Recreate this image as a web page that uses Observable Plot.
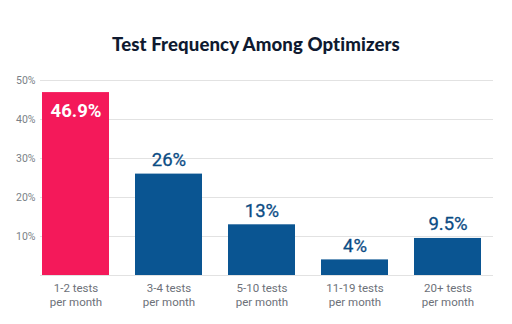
<!DOCTYPE html>
<html><head><meta charset="utf-8">
<script src="https://cdn.jsdelivr.net/npm/d3@7"></script>
<script src="https://cdn.jsdelivr.net/npm/@observablehq/plot@0.6"></script>
<style>
body{margin:0;background:#fff;width:512px;height:324px;overflow:hidden;font-family:Roboto,"Noto Sans",sans-serif}
#title{height:64px;box-sizing:border-box;padding-top:31px;text-align:center;font-family:Lato,sans-serif;font-weight:900;font-size:18.6px;color:#0f1a30;line-height:26px;letter-spacing:0.1px}
#chart svg{display:block}
</style></head><body>
<div id="title">Test Frequency Among Optimizers</div>
<div id="chart"></div>
<script>
const categories = ["1-2 tests\nper month","3-4 tests\nper month","5-10 tests\nper month","11-19 tests\nper month","20+ tests\nper month"];
const values = [46.9, 26, 13, 4, 9.5];
const labels = ["46.9%","26%","13%","4%","9.5%"];
const yTicks = [10,20,30,40,50];
const highlight = [true,false,false,false,false];

const data = categories.map((c,i)=>({cat:c, v:values[i], label:labels[i], hi:highlight[i]}));

const chart = Plot.plot({
  width:512, height:260,
  marginTop:16, marginBottom:49, marginLeft:40, marginRight:19,
  style:{fontFamily:"Roboto, sans-serif", background:"#fff"},
  x:{domain:categories, range:[41,482], paddingInner:0.28, paddingOuter:0, label:null},
  y:{domain:[0,50], label:null},
  marks:[
    Plot.ruleY([0,...yTicks], {stroke:"#e2e2e2", strokeWidth:1}),
    Plot.axisY({ticks:yTicks, tickFormat:d=>d+"%", tickSize:0, tickPadding:5, fontSize:10.5, color:"#7a7f87", label:null}),
    Plot.axisX({tickSize:0, tickPadding:7, fontSize:11.5, color:"#6d7179", label:null, lineHeight:1.2}),
    Plot.barY(data, {x:"cat", y:"v", fill:d=>d.hi?"#f4195a":"#0a5592"}),
    Plot.text(data.filter(d=>d.hi), {x:"cat", y:"v", text:"label", dy:18, fill:"#ffffff", fontSize:18.5, fontWeight:"bold"}),
    Plot.text(data.filter(d=>!d.hi), {x:"cat", y:"v", text:"label", dy:-14, fill:"#0b4c84", fontSize:18.5, fontWeight:400, stroke:"#0b4c84", strokeWidth:0.3})
  ]
});
document.getElementById("chart").append(chart);
</script>
</body></html>
